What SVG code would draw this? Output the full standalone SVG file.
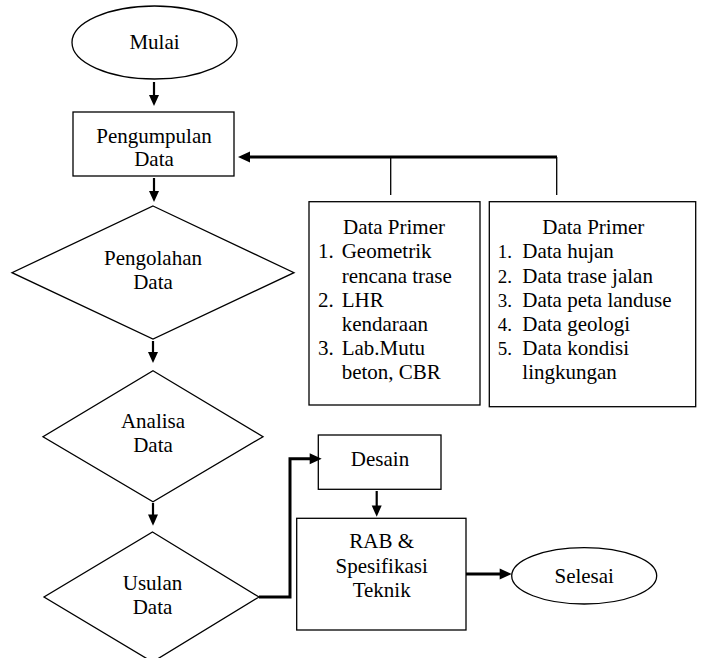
<svg xmlns="http://www.w3.org/2000/svg" width="702" height="658" viewBox="0 0 702 658">
<style>
.s{fill:#fff;stroke:#000;stroke-width:1.3}
.t{font-family:"Liberation Serif",serif;font-size:21px}
.c{text-anchor:middle}
.n{font-size:19px}
.k{fill:none;stroke:#000}
.h{fill:#000;stroke:none}
</style>
<rect width="702" height="658" fill="#fff"/>
<g id="mulai">
<ellipse class="s" cx="154.5" cy="42.5" rx="82.5" ry="36.5"/>
<text class="t c" x="154.5" y="49">Mulai</text>
</g>
<g id="pengumpulan">
<rect class="s" x="73" y="112" width="161" height="64"/>
<text class="t c" x="154" y="143">Pengumpulan</text>
<text class="t c" x="154" y="166">Data</text>
</g>
<g id="pengolahan">
<polygon class="s" points="153,206 294,272.7 153,339 12,272.7"/>
<text class="t c" x="153" y="265">Pengolahan</text>
<text class="t c" x="153" y="289">Data</text>
</g>
<g id="analisa">
<polygon class="s" points="153,370.7 263,436.7 153,501.7 43,436.7"/>
<text class="t c" x="153" y="428">Analisa</text>
<text class="t c" x="153" y="452">Data</text>
</g>
<g id="usulan">
<polygon class="s" points="152.5,532 259,597 152.5,662 44,597"/>
<text class="t c" x="152.5" y="590">Usulan</text>
<text class="t c" x="152.5" y="614">Data</text>
</g>
<g id="primer1">
<rect class="s" x="309" y="201.7" width="171" height="203.3"/>
<text class="t c" x="394" y="234">Data Primer</text>
<text class="t" x="318" y="258.3">1.</text>
<text class="t" x="341.7" y="258.3">Geometrik</text>
<text class="t" x="341.7" y="283.3">rencana trase</text>
<text class="t" x="318" y="306.7">2.</text>
<text class="t" x="341.7" y="306.7">LHR</text>
<text class="t" x="341.7" y="331">kendaraan</text>
<text class="t" x="318" y="355">3.</text>
<text class="t" x="341.7" y="355">Lab.Mutu</text>
<text class="t" x="341.7" y="379.3">beton, CBR</text>
</g>
<g id="primer2">
<rect class="s" x="489.3" y="201.7" width="206.4" height="205"/>
<text class="t c" x="593.3" y="234">Data Primer</text>
<text class="t n" x="497.7" y="258.3">1.</text>
<text class="t" x="522.3" y="258.3">Data hujan</text>
<text class="t n" x="497.7" y="283.3">2.</text>
<text class="t" x="522.3" y="283.3">Data trase jalan</text>
<text class="t n" x="497.7" y="306.7">3.</text>
<text class="t" x="522.3" y="306.7">Data peta landuse</text>
<text class="t n" x="497.7" y="331">4.</text>
<text class="t" x="522.3" y="331">Data geologi</text>
<text class="t n" x="497.7" y="355">5.</text>
<text class="t" x="522.3" y="355">Data kondisi</text>
<text class="t" x="522.3" y="379.3">lingkungan</text>
</g>
<g id="desain">
<rect class="s" x="318.3" y="435" width="122.7" height="54.3"/>
<text class="t c" x="380" y="465.7">Desain</text>
</g>
<g id="rab">
<rect class="s" x="296.7" y="518.3" width="169.3" height="111.7"/>
<text class="t c" x="381.7" y="548">RAB &#38;</text>
<text class="t c" x="381.7" y="573">Spesifikasi</text>
<text class="t c" x="381.7" y="597">Teknik</text>
</g>
<g id="selesai">
<ellipse class="s" cx="584.2" cy="575.8" rx="72.5" ry="28.2"/>
<text class="t c" x="584.2" y="583">Selesai</text>
</g>
<g id="connectors">
<line class="k" stroke-width="2.2" x1="154" y1="82" x2="154" y2="96"/>
<polygon class="h" points="149,95 159,95 154,106"/>
<line class="k" stroke-width="2.2" x1="154" y1="178" x2="154" y2="192"/>
<polygon class="h" points="149,191 159,191 154,202"/>
<line class="k" stroke-width="2.2" x1="153" y1="341" x2="153" y2="353"/>
<polygon class="h" points="148,352 158,352 153,363"/>
<line class="k" stroke-width="2.2" x1="153" y1="503" x2="153" y2="515"/>
<polygon class="h" points="148,514.5 158,514.5 153,525.7"/>
<line class="k" stroke-width="2.2" x1="376.7" y1="491" x2="376.7" y2="506"/>
<polygon class="h" points="371.7,505.5 381.7,505.5 376.7,516.7"/>
<line class="k" stroke-width="3" x1="557" y1="157" x2="248" y2="157"/>
<polygon class="h" points="238,157 250,151.5 250,162.5"/>
<line class="k" stroke-width="1.3" x1="390.7" y1="157" x2="390.7" y2="195"/>
<line class="k" stroke-width="1.3" x1="556.7" y1="157" x2="556.7" y2="195"/>
<polyline class="k" stroke-width="3" points="259,597 290,597 290,458.7 311,458.7"/>
<polygon class="h" points="321.7,458.7 309.7,453.2 309.7,464.2"/>
<line class="k" stroke-width="3" x1="466" y1="574" x2="501" y2="574"/>
<polygon class="h" points="511.7,574 499.7,568.5 499.7,579.5"/>
</g>
</svg>
